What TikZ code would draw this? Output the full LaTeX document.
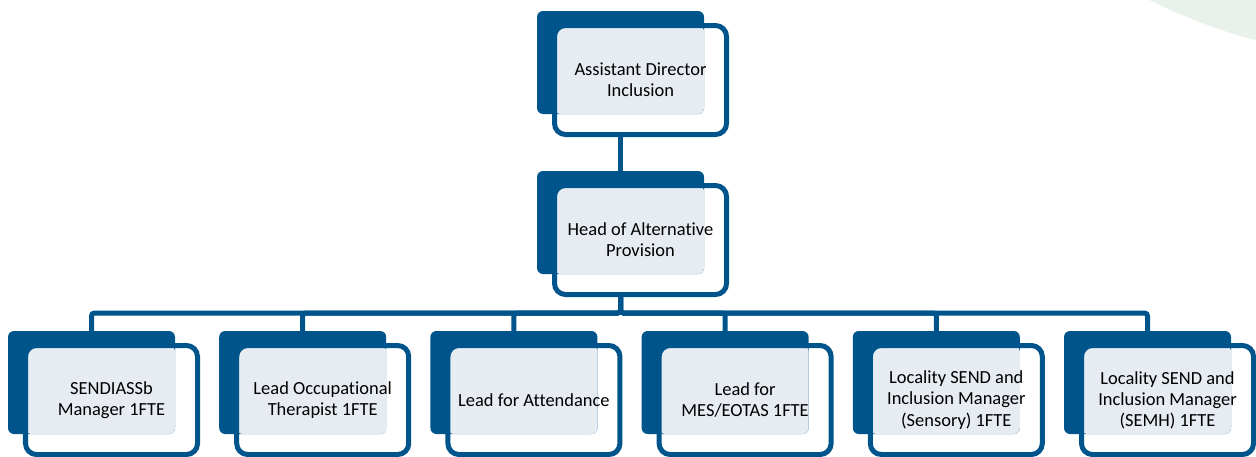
\documentclass[tikz,border=0pt]{standalone}
\usepackage{fontspec}
\setmainfont{Carlito}[Ligatures=NoCommon]
\usetikzlibrary{backgrounds}
\definecolor{navy}{RGB}{0,84,140}
\definecolor{pale}{RGB}{230,236,242}
\definecolor{mint}{RGB}{232,241,234}

\begin{document}
\begin{tikzpicture}[
    card/.style={draw=navy, line width=0.1cm, rounded corners=0.22cm, minimum width=3.44cm,
      minimum height=2.18cm, inner sep=0pt, outer sep=0pt, align=center,
      font=\fontsize{10.5}{12}\selectfont},
    back/.style={fill=navy, rounded corners=0.12cm, minimum width=3.34cm, minimum height=2.06cm,
      inner sep=0pt, outer sep=0pt},
    link/.style={draw=navy, line width=0.1cm, rounded corners=0.06cm}]
  \useasboundingbox (0,0) rectangle (25.12,-9.12);

  % soft shape in the corner
  \begin{scope}
    \clip (0,0) rectangle (25.12,-9.12);
    \fill[mint] (27.9,9.8) circle (10.96);
  \end{scope}

  \node[card] (ad) at (12.81,-1.6) {Assistant Director\\Inclusion};
  \node[card] (hap) at (12.81,-4.8) {Head of Alternative\\Provision};
  \foreach \t [count=\i] in {{SENDIASSb\\Manager 1FTE}, {Lead Occupational\\Therapist 1FTE},
      {Lead for Attendance}, {Lead for\\MES/EOTAS 1FTE},
      {Locality SEND and\\Inclusion Manager\\(Sensory) 1FTE},
      {Locality SEND and\\Inclusion Manager\\(SEMH) 1FTE}}
    \node[card] (c\i) at ({4.224*\i-1.994},-8) {\t};

  \begin{scope}[on background layer]
    \foreach \n in {ad,hap,c1,c2,c3,c4,c5,c6}{
      \node[back] (\n-b) at ([shift={(-0.4,0.35)}]\n.center) {};
      \fill[pale, rounded corners=0.12cm] (\n.north west) rectangle (\n-b.south east);
    }
    \draw[link] (ad.south -| ad-b.south) -- (hap-b.north);
    \coordinate (bus) at ([yshift=-0.37cm]hap.south);
    \foreach \i in {1,...,6}
      \draw[link] (hap.south -| hap-b.south) |- (bus -| c\i-b.north) -- (c\i-b.north);
  \end{scope}
\end{tikzpicture}
\end{document}
